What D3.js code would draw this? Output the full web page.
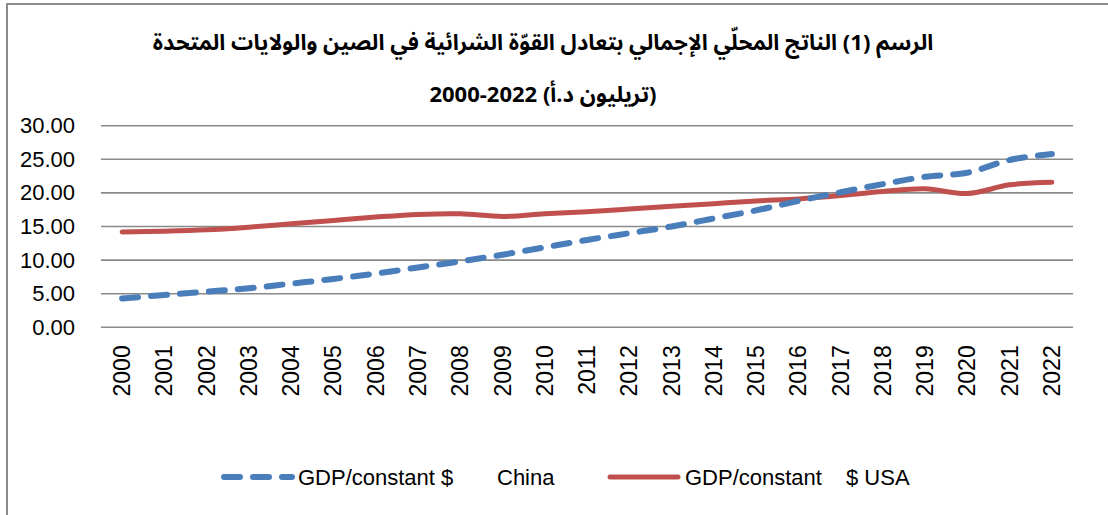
<!DOCTYPE html>
<html>
<head>
<meta charset="utf-8">
<script src="https://cdn.jsdelivr.net/npm/d3@7"></script>
<style>
  body { margin: 0; background: #fff; }
  svg { display: block; }
</style>
</head>
<body>
<div id="chart"></div>
<script>
// data (trillion $)
var years = ["2000","2001","2002","2003","2004","2005","2006","2007","2008","2009","2010",
             "2011","2012","2013","2014","2015","2016","2017","2018","2019","2020","2021","2022"];
var china = [4.3, 4.8, 5.3, 5.8, 6.5, 7.2, 8.0, 8.9, 9.8, 10.8, 11.9,
             13.0, 14.0, 15.0, 16.2, 17.4, 18.8, 20.1, 21.3, 22.4, 23.0, 24.9, 25.8];
var usa = [14.2, 14.3, 14.5, 14.9, 15.4, 15.9, 16.4, 16.8, 16.9, 16.5, 16.9,
           17.2, 17.6, 18.0, 18.4, 18.8, 19.1, 19.6, 20.2, 20.6, 19.9, 21.2, 21.6];
var yTicks = [0, 5, 10, 15, 20, 25, 30];
var titleLines = ["الرسم (1) الناتج المحلّي الإجمالي بتعادل القوّة الشرائية في الصين والولايات المتحدة",
                  "(تريليون د.أ) 2022-2000"];

var width = 1108, height = 515;
var plotLeft = 101, plotRight = 1073, plotTop = 125.7, plotBottom = 327.3;

var svg = d3.select("#chart").append("svg")
    .attr("width", width)
    .attr("height", height);

svg.append("rect")
    .attr("x", 7).attr("y", 4)
    .attr("width", 1200).attr("height", 600)
    .attr("fill", "#fff")
    .attr("stroke", "#8c8c8c")
    .attr("stroke-width", 2);

var x = d3.scaleBand().domain(years).range([plotLeft, plotRight]);
var y = d3.scaleLinear().domain([0, 30]).range([plotBottom, plotTop]);

// title
svg.selectAll(".title")
    .data(titleLines)
    .enter().append("text")
    .attr("x", 543)
    .attr("y", function(d, i) { return 50 + i * 52; })
    .attr("text-anchor", "middle")
    .attr("direction", "rtl")
    .attr("font-family", "'Noto Sans Arabic', 'DejaVu Sans', sans-serif")
    .attr("font-weight", "bold")
    .attr("font-size", 22)
    .attr("fill", "#000")
    .text(function(d) { return d; });

// gridlines
svg.append("g")
    .selectAll("line")
    .data(yTicks)
    .enter().append("line")
    .attr("x1", plotLeft).attr("x2", plotRight)
    .attr("y1", function(d) { return y(d); })
    .attr("y2", function(d) { return y(d); })
    .attr("stroke", "#8a8a8a")
    .attr("stroke-width", 1.6);

// y axis labels
var yAxis = d3.axisLeft(y).tickValues(yTicks).tickFormat(d3.format(".2f")).tickSize(0).tickPadding(26);
var gy = svg.append("g").attr("transform", "translate(" + plotLeft + ",0)").call(yAxis);
gy.select(".domain").remove();
gy.selectAll("text")
    .attr("font-family", "'Liberation Sans', Arial, sans-serif")
    .attr("font-size", 22)
    .attr("fill", "#000");

// x axis labels, rotated
var xAxis = d3.axisBottom(x).tickSize(0).tickPadding(0);
var gx = svg.append("g").attr("transform", "translate(0," + plotBottom + ")").call(xAxis);
gx.select(".domain").remove();
gx.selectAll("text")
    .attr("font-family", "'Liberation Sans', Arial, sans-serif")
    .attr("font-size", 23)
    .attr("fill", "#000")
    .attr("text-anchor", "end")
    .attr("transform", "rotate(-90)")
    .attr("x", -18)
    .attr("y", 0)
    .attr("dy", "0.35em");

var line = d3.line()
    .x(function(d, i) { return x(years[i]) + x.bandwidth() / 2; })
    .y(function(d) { return y(d); })
    .curve(d3.curveCatmullRom.alpha(0.5));

svg.append("path")
    .attr("d", line(usa))
    .attr("fill", "none")
    .attr("stroke", "#c0504d")
    .attr("stroke-width", 5)
    .attr("stroke-linecap", "round");

svg.append("path")
    .attr("d", line(china))
    .attr("fill", "none")
    .attr("stroke", "#4a7ebb")
    .attr("stroke-width", 6)
    .attr("stroke-linecap", "round")
    .attr("stroke-dasharray", "16,13");

// legend
var legY = 477;
var lg = svg.append("g")
    .attr("font-family", "'Liberation Sans', Arial, sans-serif")
    .attr("font-size", 22)
    .attr("fill", "#000");

lg.append("line")
    .attr("x1", 224).attr("x2", 292)
    .attr("y1", legY).attr("y2", legY)
    .attr("stroke", "#4a7ebb")
    .attr("stroke-width", 6)
    .attr("stroke-linecap", "round")
    .attr("stroke-dasharray", "16,13");
lg.append("text").attr("x", 298).attr("y", legY).attr("dy", "0.35em").text("GDP/constant $");
lg.append("text").attr("x", 497).attr("y", legY).attr("dy", "0.35em").text("China");

lg.append("line")
    .attr("x1", 610).attr("x2", 678)
    .attr("y1", legY).attr("y2", legY)
    .attr("stroke", "#c0504d")
    .attr("stroke-width", 5)
    .attr("stroke-linecap", "round");
lg.append("text").attr("x", 685).attr("y", legY).attr("dy", "0.35em").text("GDP/constant");
lg.append("text").attr("x", 846).attr("y", legY).attr("dy", "0.35em").text("$ USA");
</script>
</body>
</html>
